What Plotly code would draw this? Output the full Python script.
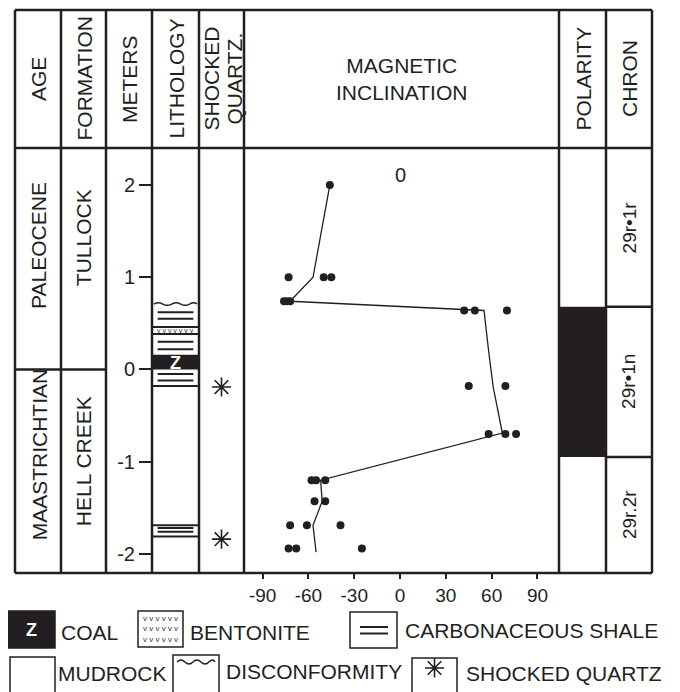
import plotly.graph_objects as go

W, H = 680, 692
OFF = 8  # default page margin of the browser body
INK = "#231f20"
FONT = "Liberation Sans, Arial, Helvetica, sans-serif"

# ---------------- data ----------------
depth_ticks = [2, 1, 0, -1, -2]
depth_tick_text = ["2", "1", "0", "-1", "-2"]
depth_range = [-2.207, 2.402]

incl_ticks = [-90, -60, -30, 0, 30, 60, 90]
incl_tick_text = ["-90", "-60", "-30", "0", "30", "60", "90"]
incl_range = [-102.2, 104.1]

incl_samples = [-46, -73, -50, -45, -76, -74, -72, 42, 49, 70,
                45, 69, 58, 69, 76, -58, -55, -49, -56, -49,
                -72, -61, -39, -73, -68, -25]
depth_samples = [2.0, 1.0, 1.0, 1.0, 0.74, 0.74, 0.74, 0.64, 0.64, 0.64,
                 -0.18, -0.18, -0.70, -0.70, -0.70, -1.20, -1.20, -1.20, -1.43, -1.43,
                 -1.69, -1.69, -1.69, -1.94, -1.94, -1.94]

mean_incl = [-46, -57, -72, 55, 58, 61, 67, -52, -51, -57, -55]
mean_depth = [2.0, 1.0, 0.74, 0.64, 0.20, -0.19, -0.69, -1.20, -1.43, -1.69, -1.98]

age_names = ["PALEOCENE", "MAASTRICHTIAN"]
age_label_depth = [1.34, -0.92]
formation_names = ["TULLOCK", "HELL CREEK"]
formation_label_depth = [1.43, -1.00]
kpg_boundary_depth = 0.0

chron_names = ["29r•1r", "29r•1n", "29r.2r"]
chron_bounds = [2.402, 0.68, -0.95, -2.207]
normal_polarity_top = 0.68
normal_polarity_base = -0.95

shale_line_depths = [0.62, 0.55, 0.30, 0.22, -0.05, -0.12, -1.72, -1.76]
bed_boundary_depths = [0.46, 0.385, -0.18, -1.69, -1.81]
coal_top, coal_base = 0.16, 0.0
bentonite_top, bentonite_base = 0.46, 0.385
disconformity_depth = 0.71
shocked_quartz_depths = [-0.19, -1.84]

header_labels = ["AGE", "FORMATION", "METERS", "LITHOLOGY", ["SHOCKED", "QUARTZ."],
                 "MAGNETIC<br>INCLINATION", "POLARITY", "CHRON"]
legend_labels = ["COAL", "BENTONITE", "CARBONACEOUS SHALE",
                 "MUDROCK", "DISCONFORMITY", "SHOCKED QUARTZ"]

# ---------------- layout geometry (screen pixels) ----------------
col_edges = [15, 61, 106, 152, 199, 244, 559, 606, 652]
top_px, head_px, bot_px = 10, 148, 573


def px(x):
    return (x - OFF) / W


def py(y):
    return 1 - (y - OFF) / H


fig = go.Figure()

# magnetic inclination samples and mean line
fig.add_trace(go.Scatter(x=mean_incl, y=mean_depth, mode="lines",
                         line=dict(color=INK, width=1.3), xaxis="x", yaxis="y",
                         showlegend=False, hoverinfo="skip"))
fig.add_trace(go.Scatter(x=incl_samples, y=depth_samples, mode="markers",
                         marker=dict(color=INK, size=8), xaxis="x", yaxis="y",
                         showlegend=False))
# shocked quartz
fig.add_trace(go.Scatter(x=[0.5] * len(shocked_quartz_depths), y=shocked_quartz_depths,
                         mode="markers", xaxis="x5", yaxis="y",
                         marker=dict(symbol="asterisk-open", size=16, color=INK,
                                     line=dict(color=INK, width=1.6)),
                         showlegend=False))
# helper axes
fig.add_trace(go.Scatter(x=[None], y=[None], xaxis="x4", yaxis="y", showlegend=False))
fig.add_trace(go.Scatter(x=[434.5], y=[668], xaxis="x7", yaxis="y2", mode="markers",
                         marker=dict(symbol="asterisk-open", size=16, color=INK,
                                     line=dict(color=INK, width=1.6)),
                         showlegend=False))

shapes = []
ann = []
LW = 2.5
CLEAR = "rgba(0,0,0,0)"


def pline(x0, y0, x1, y1, w=LW):
    shapes.append(dict(type="line", xref="x7", yref="y2", x0=x0, y0=y0, x1=x1, y1=y1,
                       line=dict(color=INK, width=w), layer="above"))


# table frame
pline(col_edges[0], top_px, col_edges[-1], top_px)
pline(col_edges[0], head_px, col_edges[-1], head_px)
pline(col_edges[0], bot_px, col_edges[-1], bot_px)
for xe in col_edges:
    pline(xe, top_px, xe, bot_px)

# age / formation boundary
shapes.append(dict(type="line", xref="x7", yref="y", x0=col_edges[0], x1=col_edges[2],
                   y0=kpg_boundary_depth, y1=kpg_boundary_depth,
                   line=dict(color=INK, width=LW), layer="above"))

# polarity block
shapes.append(dict(type="rect", xref="x7", yref="y", x0=col_edges[6] + 1, x1=col_edges[7],
                   y0=normal_polarity_base, y1=normal_polarity_top,
                   fillcolor=INK, line=dict(width=0), layer="below"))
# chron boundaries
for b in chron_bounds[1:-1]:
    shapes.append(dict(type="line", xref="x7", yref="y", x0=col_edges[7], x1=col_edges[8],
                       y0=b, y1=b, line=dict(color=INK, width=LW), layer="above"))

# lithology column
shapes.append(dict(type="rect", xref="x4", yref="y", x0=0, x1=1, y0=coal_base, y1=coal_top,
                   fillcolor=INK, line=dict(width=0)))
for d in bed_boundary_depths:
    shapes.append(dict(type="line", xref="x4", yref="y", x0=0, x1=1, y0=d, y1=d,
                       line=dict(color=INK, width=2)))
for d in shale_line_depths:
    shapes.append(dict(type="line", xref="x4", yref="y", x0=0.12, x1=0.88, y0=d, y1=d,
                       line=dict(color=INK, width=2)))
a = 0.028
d0 = disconformity_depth
wave = f"M0.04,{d0} Q0.135,{d0 + a} 0.23,{d0} T0.42,{d0} T0.61,{d0} T0.80,{d0} T0.96,{d0}"
shapes.append(dict(type="path", xref="x4", yref="y", path=wave, line=dict(color=INK, width=1.4)))
ann.append(dict(xref="x4", yref="y", x=0.5, y=(bentonite_top + bentonite_base) / 2,
                text="v v v v v v v", showarrow=False, xanchor="center", yanchor="middle",
                font=dict(family=FONT, size=7, color="#333333")))
ann.append(dict(xref="x4", yref="y", x=0.5, y=(coal_top + coal_base) / 2 - 0.005, text="<b>Z</b>",
                showarrow=False, xanchor="center", yanchor="middle",
                font=dict(family=FONT, size=18, color="white")))

# header labels
for i, lab in enumerate(header_labels):
    cx = (col_edges[i] + col_edges[i + 1]) / 2
    if isinstance(lab, list):
        for j, part in enumerate(lab):
            ann.append(dict(xref="paper", yref="paper", x=px(cx - 11 + 23 * j),
                            y=py((top_px + head_px) / 2), text=part, textangle=-90,
                            showarrow=False, xanchor="center", yanchor="middle",
                            font=dict(family=FONT, size=21, color=INK)))
        continue
    angle = 0 if lab.startswith("MAGNETIC") else -90
    ann.append(dict(xref="paper", yref="paper", x=px(cx), y=py((top_px + head_px) / 2),
                    text=lab, textangle=angle, showarrow=False,
                    xanchor="center", yanchor="middle",
                    font=dict(family=FONT, size=21, color=INK)))

# age + formation labels
for name, dep in zip(age_names, age_label_depth):
    ann.append(dict(xref="paper", yref="y", x=px((col_edges[0] + col_edges[1]) / 2 + 1), y=dep,
                    text=name, textangle=-90, showarrow=False,
                    xanchor="center", yanchor="middle",
                    font=dict(family=FONT, size=21, color=INK)))
for name, dep in zip(formation_names, formation_label_depth):
    ann.append(dict(xref="paper", yref="y", x=px((col_edges[1] + col_edges[2]) / 2), y=dep,
                    text=name, textangle=-90, showarrow=False,
                    xanchor="center", yanchor="middle",
                    font=dict(family=FONT, size=21, color=INK)))
# chron labels
for i, name in enumerate(chron_names):
    ann.append(dict(xref="paper", yref="y", x=px((col_edges[7] + col_edges[8]) / 2),
                    y=(chron_bounds[i] + chron_bounds[i + 1]) / 2,
                    text=name, textangle=-90, showarrow=False,
                    xanchor="center", yanchor="middle",
                    font=dict(family=FONT, size=19, color=INK)))
# top zero label in magnetic panel
ann.append(dict(xref="x", yref="y", x=0, y=2.11, text="0", showarrow=False,
                xanchor="center", yanchor="middle",
                font=dict(family=FONT, size=20, color=INK)))


# ---------------- legend ----------------
def box(x0, y0, x1, y1, fill=CLEAR):
    shapes.append(dict(type="rect", xref="x7", yref="y2", x0=x0, y0=y0, x1=x1, y1=y1,
                       fillcolor=fill, line=dict(color=INK, width=1.5), layer="below"))


def ltext(x, y, t):
    ann.append(dict(xref="x7", yref="y2", x=x, y=y, text=t, showarrow=False,
                    xanchor="left", yanchor="middle",
                    font=dict(family=FONT, size=21, color=INK)))


box(8, 611, 55, 648, fill=INK)
ann.append(dict(xref="x7", yref="y2", x=31.5, y=630, text="<b>Z</b>", showarrow=False,
                xanchor="center", yanchor="middle",
                font=dict(family=FONT, size=18, color="white")))
ltext(59, 632, legend_labels[0])
box(138, 611, 183, 647)
ann.append(dict(xref="x7", yref="y2", x=160.5, y=629, showarrow=False,
                xanchor="center", yanchor="middle",
                text="v v v v v v<br>v v v v v v<br>v v v v v v",
                font=dict(family=FONT, size=8, color="#333333")))
ltext(188, 632, legend_labels[1])
box(350, 612, 397, 648)
pline(360, 627, 388, 627, 2)
pline(360, 633.5, 388, 633.5, 2)
ltext(403, 630, legend_labels[2])

box(10, 657, 55, 704)
ltext(56, 673, legend_labels[3])
box(173, 655, 219, 704)
shapes.append(dict(type="path", xref="x7", yref="y2",
                   path="M177,662 Q181,658 185,662 T193,662 T201,662 T209,662 T215,662",
                   line=dict(color=INK, width=1.3)))
ltext(224, 671, legend_labels[4])
box(412, 658, 457, 704)
ltext(464, 673, legend_labels[5])

axis_font = dict(family=FONT, size=19, color=INK)
fig.update_layout(
    width=W, height=H, autosize=False,
    margin=dict(l=0, r=0, t=0, b=0),
    paper_bgcolor="white", plot_bgcolor="rgba(0,0,0,0)",
    showlegend=False,
    xaxis=dict(domain=[px(col_edges[5]), px(col_edges[6])], range=incl_range, anchor="y",
               tickvals=incl_ticks, ticktext=incl_tick_text, ticks="outside", ticklen=5,
               tickwidth=2, tickcolor=INK, showgrid=False, zeroline=False, showline=False,
               tickfont=axis_font, fixedrange=True),
    xaxis2=dict(overlaying="x", range=incl_range, anchor="y", side="bottom",
                tickvals=incl_ticks, ticks="inside", ticklen=7, tickwidth=2, tickcolor=INK,
                showticklabels=False, showgrid=False, zeroline=False, showline=False),
    xaxis3=dict(overlaying="x", range=incl_range, anchor="y", side="top",
                tickvals=incl_ticks, ticks="inside", ticklen=11, tickwidth=2, tickcolor=INK,
                showticklabels=False, showgrid=False, zeroline=False, showline=False),
    xaxis4=dict(domain=[px(col_edges[3]), px(col_edges[4])], range=[0, 1], anchor="y",
                visible=False),
    xaxis5=dict(domain=[px(col_edges[4]), px(col_edges[5])], range=[0, 1], anchor="y",
                visible=False),
    xaxis7=dict(domain=[0, 1], range=[OFF, OFF + W], anchor="y2", visible=False),
    yaxis=dict(domain=[py(bot_px), py(head_px)], range=depth_range, anchor="free",
               position=px(col_edges[3]), side="left",
               tickvals=depth_ticks, ticktext=depth_tick_text, ticks="outside", ticklen=13,
               tickwidth=2, tickcolor=INK, tickfont=dict(family=FONT, size=20, color=INK),
               showgrid=False, zeroline=False, showline=False),
    yaxis2=dict(domain=[0, 1], range=[OFF + H, OFF], anchor="x7", visible=False),
    shapes=shapes,
    annotations=ann,
)

fig.write_html("out.html")
